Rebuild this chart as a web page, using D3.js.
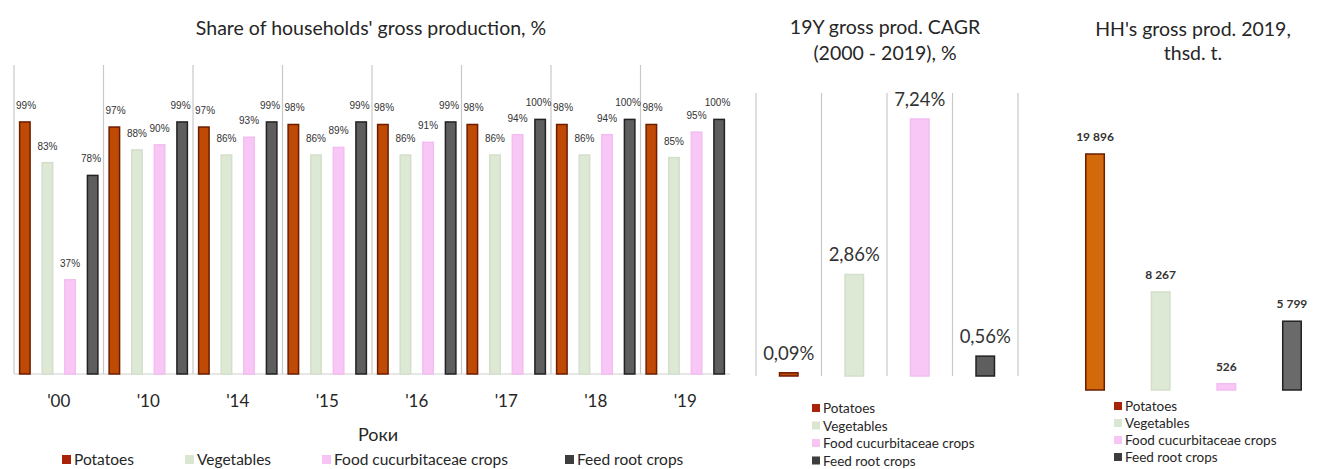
<!DOCTYPE html>
<html>
<head>
<meta charset="utf-8">
<script src="https://cdn.jsdelivr.net/npm/d3@7"></script>
<style>
  html, body { margin: 0; padding: 0; background: #fff; }
  svg { display: block; }
  text { font-family: Lato, "Open Sans", sans-serif; fill: #262626; }
</style>
</head>
<body>
<svg id="chart" width="1318" height="469"></svg>
<script>
// Crop series shown in all three panels
const series = ["Potatoes", "Vegetables", "Food cucurbitaceae crops", "Feed root crops"];
const seriesKeys = ["potatoes", "vegetables", "cucurbit", "feedRoot"];

// Panel 1: share of households in gross production, %
const years = ["'00", "'10", "'14", "'15", "'16", "'17", "'18", "'19"];
const sharePotatoes  = [99, 97, 97, 98, 98, 98, 98, 98];
const shareVegetables = [83, 88, 86, 86, 86, 86, 86, 85];
const shareCucurbit  = [37, 90, 93, 89, 91, 94, 94, 95];
const shareFeedRoot  = [78, 99, 99, 99, 99, 100, 100, 100];

// Panel 2: 19-year CAGR of gross production (2000-2019), %
const cagrValues = [0.09, 2.86, 7.24, 0.56];
const cagrLabels = ["0,09%", "2,86%", "7,24%", "0,56%"];

// Panel 3: households' gross production in 2019, thsd. t.
const prodValues = [19896, 8267, 526, 5799];
const prodLabels = ["19 896", "8 267", "526", "5 799"];

const fills   = ["#bf4a05", "#dde9d4", "#f9c7f6", "#5e5e5e"];
const strokes = ["#6e1c00", "#d3dfca", "#f3bdf0", "#222222"];
const legendSwatch = ["#a8230a", "#d9e6d0", "#f7c4f3", "#3d3d3d"];

const svg = d3.select("#chart");

/* ---------- Panel 1 ---------- */
const shareRows = years.map((y, i) => ({
  year: y,
  potatoes: sharePotatoes[i],
  vegetables: shareVegetables[i],
  cucurbit: shareCucurbit[i],
  feedRoot: shareFeedRoot[i]
}));

const x0 = d3.scaleBand().domain(years).range([14, 730]).paddingInner(0).paddingOuter(0);
const x1 = d3.scaleBand().domain(seriesKeys).range([0, x0.bandwidth()])
  .paddingInner(0.47).paddingOuter(0.215);
const y1 = d3.scaleLinear().domain([0, 100]).range([374, 119.4]);

const p1 = svg.append("g");

// group separators
p1.selectAll("line.sep").data(years).join("line")
  .attr("x1", d => x0(d)).attr("x2", d => x0(d))
  .attr("y1", 65).attr("y2", y1(0))
  .attr("stroke", "#c8c8c8").attr("stroke-width", 1.2);

// baseline
p1.append("line")
  .attr("x1", x0.range()[0]).attr("x2", x0.range()[1])
  .attr("y1", y1(0)).attr("y2", y1(0))
  .attr("stroke", "#cfcfcf").attr("stroke-width", 1.2);

const groups = p1.selectAll("g.grp").data(shareRows).join("g")
  .attr("transform", d => `translate(${x0(d.year)},0)`);

groups.selectAll("rect").data(d => seriesKeys.map((k, i) => ({ k, i, v: d[k] }))).join("rect")
  .attr("x", d => x1(d.k) + 0.75)
  .attr("width", x1.bandwidth() - 1.5)
  .attr("y", d => y1(d.v))
  .attr("height", d => y1(0) - y1(d.v))
  .attr("fill", d => fills[d.i])
  .attr("stroke", d => strokes[d.i])
  .attr("stroke-width", 1.5);

// value labels; outer labels nudged inward so neighbours across groups don't collide
const labelNudge = [1.2, 0, 0, -1.6];
groups.selectAll("text.val").data(d => seriesKeys.map((k, i) => ({ k, i, v: d[k] }))).join("text")
  .attr("class", "val")
  .attr("x", d => x1(d.k) + x1.bandwidth() / 2 + labelNudge[d.i])
  .attr("y", d => y1(d.v) - 13)
  .attr("text-anchor", "middle")
  .style("font-family", "'Liberation Sans', Arial, sans-serif")
  .style("font-size", "10px")
  .style("fill", "#333")
  .text(d => d.v + "%");

// category axis
const ax1 = p1.append("g").attr("transform", `translate(0,${y1(0)})`)
  .call(d3.axisBottom(x0).tickSize(0).tickPadding(21));
ax1.select(".domain").remove();
ax1.selectAll("text").style("font-family", "Lato, 'Open Sans', sans-serif")
  .style("font-size", "17px").style("fill", "#262626");

p1.append("text").attr("x", 378).attr("y", 441).attr("text-anchor", "middle")
  .style("font-size", "18px").text("Роки");

p1.append("text").attr("x", 371).attr("y", 35).attr("text-anchor", "middle")
  .style("font-size", "19.5px").text("Share of households' gross production, %");

// horizontal legend
const legX = [62, 185, 322, 565];
const leg1 = p1.selectAll("g.leg").data(series).join("g")
  .attr("transform", (d, i) => `translate(${legX[i]},465)`);
leg1.append("rect").attr("x", 0).attr("y", -10).attr("width", 9).attr("height", 9)
  .attr("fill", (d, i) => legendSwatch[i]);
leg1.append("text").attr("x", 12).attr("y", 0).style("font-size", "15.5px").text(d => d);

/* ---------- Panel 2 ---------- */
const xb = d3.scaleBand().domain(series).range([756, 1018]).paddingInner(0.695).paddingOuter(0.3475);
const yb = d3.scaleLinear().domain([0, 7.24]).range([376, 119]);
const p2 = svg.append("g");

// separators on band boundaries
const bounds = d3.range(series.length + 1).map(i => xb.range()[0] + i * xb.step());
p2.selectAll("line").data(bounds).join("line")
  .attr("x1", d => d).attr("x2", d => d).attr("y1", 93).attr("y2", yb(0))
  .attr("stroke", "#c8c8c8").attr("stroke-width", 1.2);

p2.selectAll("rect").data(cagrValues).join("rect")
  .attr("x", (d, i) => xb(series[i]) + 0.75)
  .attr("width", xb.bandwidth() - 1.5)
  .attr("y", d => yb(d))
  .attr("height", d => Math.max(yb(0) - yb(d), 1.5))
  .attr("fill", (d, i) => fills[i])
  .attr("stroke", (d, i) => strokes[i])
  .attr("stroke-width", 1.5);

p2.selectAll("text.val").data(cagrValues).join("text")
  .attr("class", "val")
  .attr("x", (d, i) => xb(series[i]) + xb.bandwidth() / 2)
  .attr("y", d => yb(d) - 13)
  .attr("text-anchor", "middle")
  .style("font-size", "18.5px").style("fill", "#333")
  .text((d, i) => cagrLabels[i]);

p2.append("text").attr("x", 885).attr("y", 34).attr("text-anchor", "middle")
  .style("font-size", "19.5px").text("19Y gross prod. CAGR");
p2.append("text").attr("x", 885).attr("y", 60).attr("text-anchor", "middle")
  .style("font-size", "19.5px").text("(2000 - 2019), %");

const leg2 = p2.selectAll("g.leg").data(series).join("g")
  .attr("transform", (d, i) => `translate(812,${413 + i * 17.5})`);
leg2.append("rect").attr("x", 0).attr("y", -9).attr("width", 8).attr("height", 8)
  .attr("fill", (d, i) => legendSwatch[i]);
leg2.append("text").attr("x", 11).attr("y", 0).style("font-size", "13.5px").text(d => d);

/* ---------- Panel 3 ---------- */
const xc = d3.scaleBand().domain(series).range([1062.2, 1324.8]).paddingInner(0.695).paddingOuter(0.3475);
const yc = d3.scaleLinear().domain([0, 19896]).range([390, 154]);
const p3 = svg.append("g");
const fills3 = ["#d2690a", "#dde9d4", "#f9c7f6", "#6a6a6a"];

p3.selectAll("rect").data(prodValues).join("rect")
  .attr("x", (d, i) => xc(series[i]) + 0.75)
  .attr("width", xc.bandwidth() - 1.5)
  .attr("y", d => yc(d))
  .attr("height", d => yc(0) - yc(d))
  .attr("fill", (d, i) => fills3[i])
  .attr("stroke", (d, i) => strokes[i])
  .attr("stroke-width", 1.5);

p3.selectAll("text.val").data(prodValues).join("text")
  .attr("class", "val")
  .attr("x", (d, i) => xc(series[i]) + xc.bandwidth() / 2)
  .attr("y", d => yc(d) - 13)
  .attr("text-anchor", "middle")
  .style("font-size", "12px").style("font-weight", "bold").style("fill", "#333")
  .text((d, i) => prodLabels[i]);

p3.append("text").attr("x", 1193).attr("y", 36).attr("text-anchor", "middle")
  .style("font-size", "19.5px").text("HH's gross prod. 2019,");
p3.append("text").attr("x", 1193).attr("y", 60).attr("text-anchor", "middle")
  .style("font-size", "19.5px").text("thsd. t.");

const leg3 = p3.selectAll("g.leg").data(series).join("g")
  .attr("transform", (d, i) => `translate(1114,${411 + i * 17})`);
leg3.append("rect").attr("x", 0).attr("y", -9).attr("width", 8).attr("height", 8)
  .attr("fill", (d, i) => legendSwatch[i]);
leg3.append("text").attr("x", 11).attr("y", 0).style("font-size", "13.5px").text(d => d);
</script>
</body>
</html>
